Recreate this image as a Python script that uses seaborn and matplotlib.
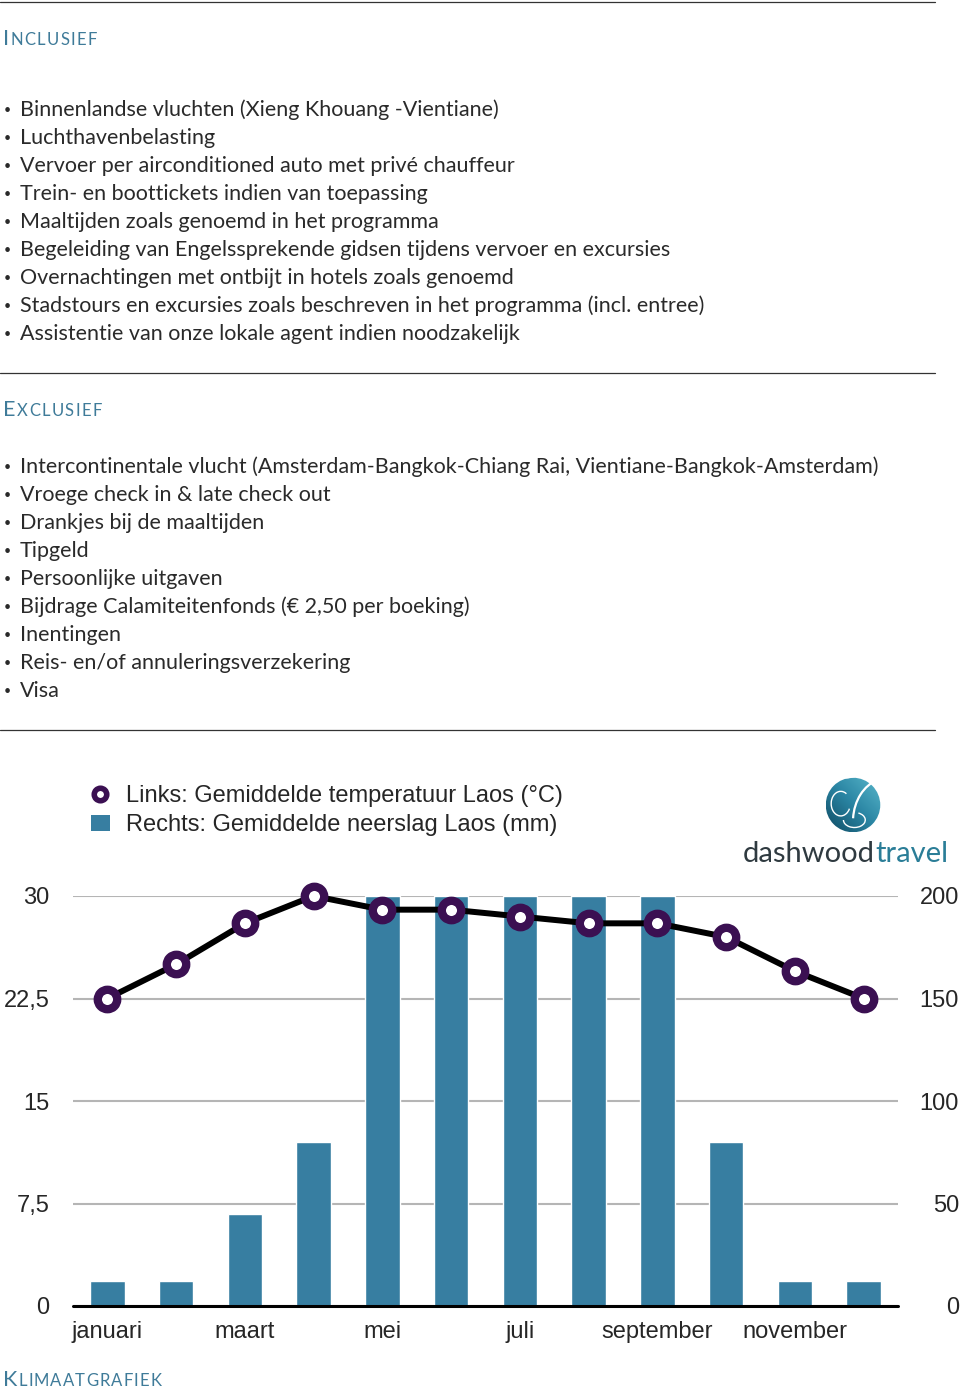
import numpy as np
import seaborn as sns
import matplotlib.pyplot as plt
from matplotlib.lines import Line2D
from matplotlib.patches import Patch, Circle, Arc
from matplotlib.offsetbox import TextArea, HPacker, AnnotationBbox

# data
months = ['januari', 'februari', 'maart', 'april', 'mei', 'juni', 'juli',
          'augustus', 'september', 'oktober', 'november', 'december']
temp = [22.5, 25, 28, 30, 29, 29, 28.5, 28, 28, 27, 24.5, 22.5]
rain = [12, 12, 45, 80, 200, 200, 200, 200, 200, 80, 12, 12]
temp_ticks = ['0', '7,5', '15', '22,5', '30']
rain_ticks = ['0', '50', '100', '150', '200']

inclusief = [
    'Binnenlandse vluchten (Xieng Khouang -Vientiane)',
    'Luchthavenbelasting',
    'Vervoer per airconditioned auto met privé chauffeur',
    'Trein- en boottickets indien van toepassing',
    'Maaltijden zoals genoemd in het programma',
    'Begeleiding van Engelssprekende gidsen tijdens vervoer en excursies',
    'Overnachtingen met ontbijt in hotels zoals genoemd',
    'Stadstours en excursies zoals beschreven in het programma (incl. entree)',
    'Assistentie van onze lokale agent indien noodzakelijk',
]
exclusief = [
    'Intercontinentale vlucht (Amsterdam-Bangkok-Chiang Rai, Vientiane-Bangkok-Amsterdam)',
    'Vroege check in & late check out',
    'Drankjes bij de maaltijden',
    'Tipgeld',
    'Persoonlijke uitgaven',
    'Bijdrage Calamiteitenfonds (€ 2,50 per boeking)',
    'Inentingen',
    'Reis- en/of annuleringsverzekering',
    'Visa',
]

sns.set_style('white')
plt.rcParams['font.family'] = ['Liberation Sans', 'DejaVu Sans']

W, H = 960, 1393
fig = plt.figure(figsize=(W / 100, H / 100), dpi=100)

BLUE = '#377ea1'
PURPLE = '#3b1052'
HEAD = '#3f7b99'
BODY_FONT = ['Lato', 'DejaVu Sans']


def fx(x):
    return x / W


def fy(y):
    return 1 - y / H


def rule(y):
    fig.add_artist(Line2D([0, fx(935)], [fy(y), fy(y)], color='#333333', lw=0.9))


def smallcaps(x, y, word, sep=1.0):
    # first letter large, the rest as small capitals, a little letter spacing
    kids = [TextArea(word[0], textprops=dict(fontsize=15.5, color=HEAD, family=BODY_FONT))]
    for ch in word[1:].upper():
        kids.append(TextArea(ch, textprops=dict(fontsize=12, color=HEAD, family=BODY_FONT)))
    box = HPacker(children=kids, align='baseline', pad=0, sep=sep)
    ab = AnnotationBbox(box, (x, H - y), xycoords='figure pixels', box_alignment=(0, 0.5),
                        frameon=False, pad=0)
    fig.add_artist(ab)


def bullets(items, y0):
    for i, s in enumerate(items):
        y = y0 + 28 * i
        fig.text(fx(4), fy(y), '•', fontsize=9, color='#2a2a2a', va='center', family=BODY_FONT)
        fig.text(fx(20), fy(y), s, fontsize=15.5, color='#2a2a2a', va='center',
                 family=BODY_FONT)


rule(2)
smallcaps(3, 39, 'Inclusief')
bullets(inclusief, 110)
rule(373)
smallcaps(3, 410, 'Exclusief')
bullets(exclusief, 467)
rule(730)
smallcaps(3, 1380, 'Klimaatgrafiek', sep=0.8)

# chart
ax = fig.add_axes([fx(73), fy(1306), fx(898) - fx(73), (1306 - 896) / H])
sns.barplot(x=months, y=rain, ax=ax, color=BLUE, saturation=1, width=0.5)
ax2 = ax.twinx()
sns.lineplot(x=np.arange(12), y=temp, ax=ax2, color='black', lw=4.3, marker='o',
             markersize=14, markerfacecolor='white', markeredgecolor=PURPLE,
             markeredgewidth=6, clip_on=False)

ax.set_ylim(0, 200)
ax.set_yticks(np.arange(0, 201, 50))
ax.set_yticklabels(rain_ticks)
ax.yaxis.tick_right()
ax.grid(axis='y', color='#b5b5b5', lw=1.5)
ax.set_axisbelow(True)
ax.axhline(0, color='black', lw=2.2, clip_on=False, zorder=5)
ax.set_xticks(range(0, 12, 2))
ax.set_xticklabels(months[::2])
ax.tick_params(axis='x', length=0, pad=11, labelsize=17)
ax.tick_params(axis='y', length=0, pad=44, labelsize=17)
for lab in ax.get_yticklabels(which='both'):
    lab.set_horizontalalignment('right')
ax.set_xlabel('')
ax.set_ylabel('')
ax.set_xlim(-0.5, 11.5)

ax2.set_ylim(0, 30)
ax2.set_yticks([0, 7.5, 15, 22.5, 30])
ax2.set_yticklabels(temp_ticks)
ax2.yaxis.tick_left()
ax2.tick_params(axis='y', length=0, pad=17, labelsize=17)
ax2.set_ylabel('')
for a in (ax, ax2):
    for s in a.spines.values():
        s.set_visible(False)

handles = [
    Line2D([], [], ls='none', marker='o', markersize=9, markerfacecolor='white',
           markeredgecolor=PURPLE, markeredgewidth=4),
    Patch(facecolor=BLUE, edgecolor='none'),
]
fig.legend(handles, ['Links: Gemiddelde temperatuur Laos (°C)',
                     'Rechts: Gemiddelde neerslag Laos (mm)'],
           loc='upper left', bbox_to_anchor=(fx(91), fy(785)), frameon=False,
           fontsize=17, handlelength=0.8, handleheight=0.7, handletextpad=0.7,
           labelspacing=0.3, borderpad=0, borderaxespad=0)

# logo
logo = HPacker(children=[
    TextArea('dashwood', textprops=dict(fontsize=21, color='#2f3a40', family=BODY_FONT)),
    TextArea('travel', textprops=dict(fontsize=21, color='#2a7d97', family=BODY_FONT)),
], align='baseline', pad=0, sep=0)
fig.add_artist(AnnotationBbox(logo, (948, H - 854), xycoords='figure pixels',
                              box_alignment=(1, 0.5), frameon=False, pad=0))
lax = fig.add_axes([fx(823), fy(835), 60 / W, 60 / H])
lax.set_xlim(-1.1, 1.1)
lax.set_ylim(-1.1, 1.1)
lax.set_aspect('equal')
lax.axis('off')
g = np.linspace(-1, 1, 200)
gx, gy = np.meshgrid(g, g)
grad = lax.imshow(gx + gy, extent=(-1, 1, -1, 1), origin='lower',
                  cmap=sns.blend_palette(['#0f4a63', '#2a85a3', '#5ab8cc'], as_cmap=True))
circ = Circle((0, 0), 1, transform=lax.transData)
grad.set_clip_path(circ)
lax.add_patch(Arc((1.3, -0.6), 2.6, 3.2, theta1=105, theta2=175, color='white', lw=1.6))
lax.add_patch(Arc((-0.4, 1.8), 2.6, 1.6, theta1=250, theta2=330, color='white', lw=1.4))
lax.add_patch(Arc((-0.45, 0.05), 0.7, 0.9, theta1=60, theta2=330, color='white', lw=1.0))
lax.add_patch(Arc((0.05, -0.55), 0.8, 0.55, theta1=180, theta2=60, color='white', lw=1.0))

fig.savefig('out.png', dpi=100)
